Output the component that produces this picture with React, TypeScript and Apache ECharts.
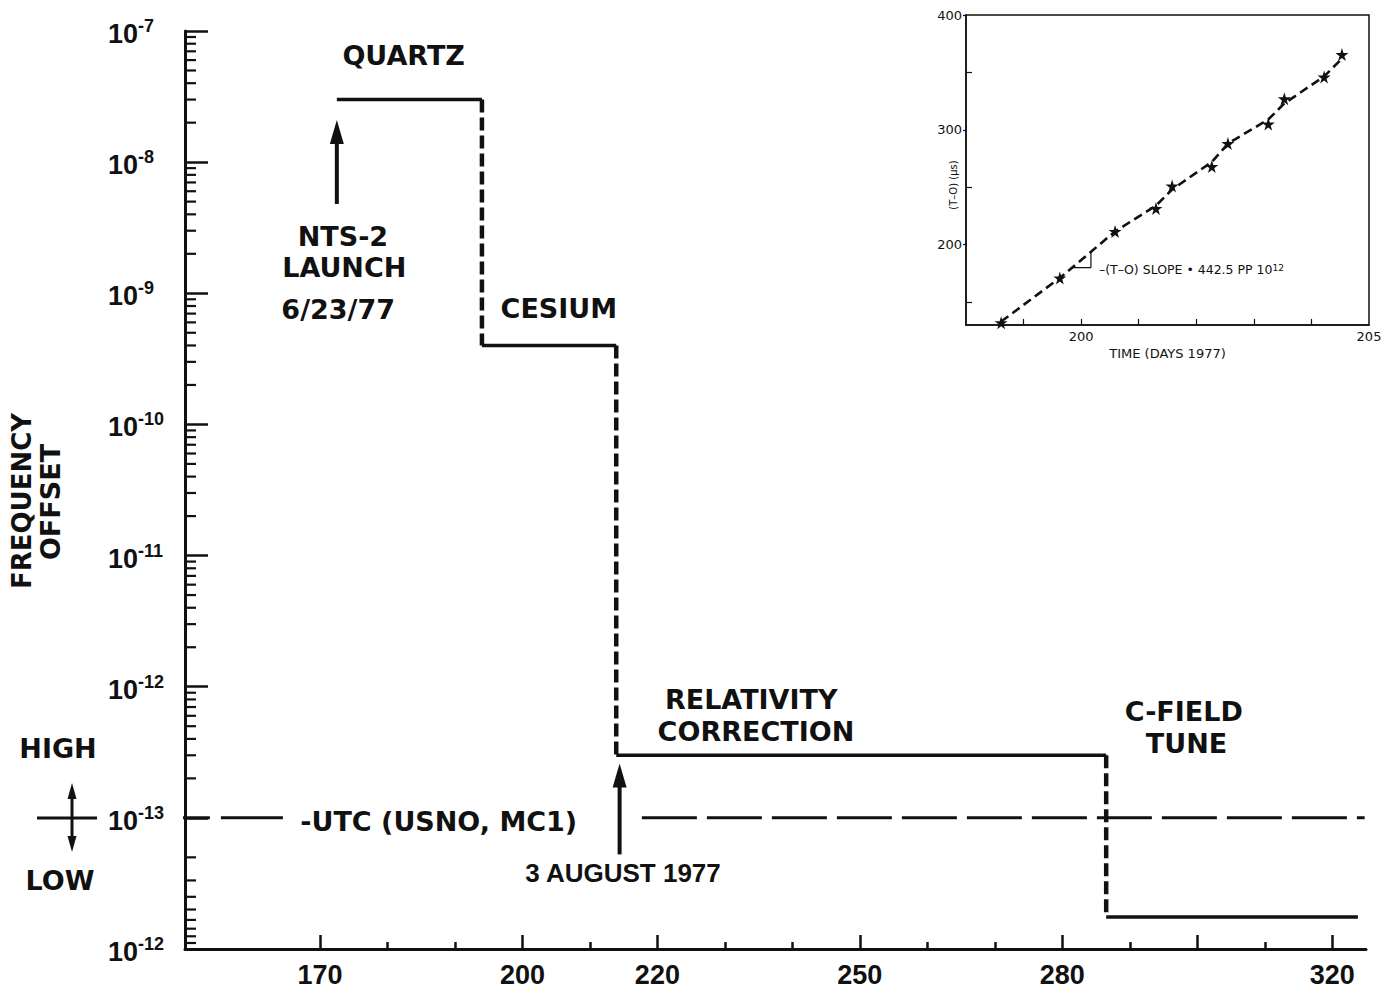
import React, { useEffect, useRef } from "react";
import * as echarts from "echarts";

// ---------- main chart: axes ----------
const X_MIN = 150;
const X_MAX = 325;
const X_LABELS = [170, 200, 220, 250, 280, 320];
const X_MAJOR_TICKS = [170, 200, 220, 250, 280, 300, 320];
const X_MINOR_TICKS = [180, 190, 210, 230, 240, 260, 270, 290, 310];

// y axis is a symmetric log scale in "decade" units: 10^-13 -> 0, 10^-7 -> 6, low 10^-12 -> -1
const Y_MIN = -1;
const Y_MAX = 6;
const Y_DECADE_POS = [-1, 0, 1, 2, 3, 4, 5, 6];
const Y_EXPONENTS = ["-12", "-13", "-12", "-11", "-10", "-9", "-8", "-7"];
const MINOR_MULTIPLIERS = [2, 3, 4, 5, 6, 7, 8, 9];

// ---------- main chart: clock phases (day of 1977, frequency offset) ----------
const PHASE_NAMES = ["QUARTZ", "CESIUM", "RELATIVITY CORRECTION", "C-FIELD TUNE"];
const PHASE_START = [172.5, 194, 213.9, 286.5];
const PHASE_END = [194, 213.9, 286.5, 323.8];
const PHASE_OFFSET = [3e-8, 4e-10, 3e-13, -5.7e-13];

// UTC (USNO, MC1) reference line segments (days)
const UTC_LEFT = [144.5, 164.7];
const UTC_RIGHT = [217.7, 324.8];

// event arrows: day, tail offset, tip offset
const ARROW_DAYS = [172.5, 214.4];
const ARROW_TAIL = [4.8e-9, -1.9e-13];
const ARROW_TIP = [2.1e-8, 2.6e-13];

// ---------- inset: (T-O) vs time ----------
const INSET_DAYS = [198.61, 199.63, 200.59, 201.3, 201.58, 202.27, 202.55, 203.25, 203.53, 204.22, 204.53];
const INSET_TO = [132, 171, 211.5, 231.5, 251, 268, 288, 305, 327, 346, 365.5];
const FIT_TO = [133, 171, 211.5, 234, 248, 272, 288, 309, 323, 346.5, 362];
const SLOPE_TRI_DAYS = [199.84, 200.17, 200.17];
const SLOPE_TRI_TO = [180, 180, 193.5];
const INSET_X_LABELS = [200, 205];
const INSET_X_TICKS = [199, 200, 201, 202, 203, 204];
const INSET_Y_LABELS = [200, 300, 400];
const INSET_Y_MINOR = [150, 250, 350];

const INK = "#111111";
const OLD = "DejaVu Sans";
const ARIAL = "Liberation Sans";
const STAR = "path://M50,0 L61,35 L98,35 L68,57 L79,91 L50,70 L21,91 L32,57 L2,35 L39,35 Z";

const pos = (v: number) => (v > 0 ? Math.log10(v) + 13 : -(Math.log10(-v) + 13));

// annotation text anchors (day, decade position)
const ANNOTATIONS: { text: string; day: number; at: number; font?: string; size?: number }[] = [
  { text: "QUARTZ", day: 182.4, at: 5.81 },
  { text: "NTS-2", day: 173.4, at: 4.435 },
  { text: "LAUNCH", day: 173.6, at: 4.2 },
  { text: "6/23/77", day: 172.7, at: 3.88 },
  { text: "CESIUM", day: 205.4, at: 3.885 },
  { text: "RELATIVITY", day: 233.9, at: 0.9 },
  { text: "CORRECTION", day: 234.6, at: 0.656 },
  { text: "C-FIELD", day: 298.0, at: 0.81 },
  { text: "TUNE", day: 298.4, at: 0.57 },
  { text: "-UTC (USNO, MC1)", day: 187.6, at: -0.03 },
  { text: "3 AUGUST 1977", day: 214.9, at: -0.42, font: ARIAL, size: 26 },
];

export default function App() {
  const ref = useRef<HTMLDivElement>(null);

  useEffect(() => {
    const el = ref.current!;
    const chart = echarts.init(el, undefined, { renderer: "svg" });

    const minorTicks: number[][] = [];
    for (let d = 0; d < Y_MAX; d++) MINOR_MULTIPLIERS.forEach((k) => minorTicks.push([X_MIN, d + Math.log10(k)]));
    MINOR_MULTIPLIERS.forEach((k) => minorTicks.push([X_MIN, -Math.log10(k)]));

    const series: any[] = [];

    series.push({
      type: "custom",
      xAxisIndex: 0,
      yAxisIndex: 0,
      silent: true,
      clip: false,
      data: minorTicks,
      renderItem: (_p: any, api: any) => {
        const p = api.coord([api.value(0), api.value(1)]);
        return {
          type: "line",
          shape: { x1: p[0], y1: p[1], x2: p[0] + 11, y2: p[1] },
          style: { stroke: INK, lineWidth: 2.2 },
        };
      },
    });

    // UTC reference line
    [UTC_LEFT, UTC_RIGHT].forEach((seg, i) => {
      series.push({
        type: "line",
        name: "UTC",
        xAxisIndex: 0,
        yAxisIndex: 0,
        clip: false,
        silent: true,
        symbol: "none",
        data: [
          [seg[0], 0],
          [seg[1], 0],
        ],
        lineStyle: { color: INK, width: 3, type: i === 0 ? [62, 11] : [55, 10] },
      });
    });

    // phases
    PHASE_START.forEach((s, i) => {
      const y = pos(PHASE_OFFSET[i]);
      series.push({
        type: "line",
        name: PHASE_NAMES[i],
        xAxisIndex: 0,
        yAxisIndex: 0,
        silent: true,
        symbol: "none",
        data: [
          [s, y],
          [PHASE_END[i], y],
        ],
        lineStyle: { color: INK, width: 3.5 },
      });
      if (i > 0) {
        const yPrev = pos(PHASE_OFFSET[i - 1]);
        series.push({
          type: "line",
          xAxisIndex: 0,
          yAxisIndex: 0,
          silent: true,
          symbol: "none",
          data: [
            [s, yPrev],
            [s, y],
          ],
          lineStyle: { color: INK, width: 4.5, type: [13, 5] },
        });
      }
    });

    // arrows
    ARROW_DAYS.forEach((d, i) => {
      series.push({
        type: "line",
        xAxisIndex: 0,
        yAxisIndex: 0,
        silent: true,
        symbol: "none",
        data: [
          [d, pos(ARROW_TAIL[i])],
          [d, pos(ARROW_TIP[i]) - 0.08],
        ],
        lineStyle: { color: INK, width: 4 },
      });
    });
    series.push({
      type: "scatter",
      xAxisIndex: 0,
      yAxisIndex: 0,
      silent: true,
      symbol: "triangle",
      symbolSize: [14, 24],
      symbolOffset: [0, "50%"],
      itemStyle: { color: INK, opacity: 1 },
      data: ARROW_DAYS.map((d, i) => [d, pos(ARROW_TIP[i])]),
    });

    // annotation texts
    series.push({
      type: "scatter",
      xAxisIndex: 0,
      yAxisIndex: 0,
      silent: true,
      symbolSize: 0,
      itemStyle: { opacity: 1 },
      data: ANNOTATIONS.map((a) => ({
        value: [a.day, a.at],
        name: a.text,
        label: {
          show: true,
          position: "inside",
          formatter: a.text,
          color: INK,
          opacity: 1,
          fontFamily: a.font || OLD,
          fontWeight: "bold",
          fontSize: a.size || 27,
        },
      })),
    });

    // inset series
    series.push({
      type: "line",
      name: "fit",
      xAxisIndex: 2,
      yAxisIndex: 1,
      silent: true,
      symbol: "none",
      z: 6,
      data: INSET_DAYS.map((d, i) => [d, FIT_TO[i]]),
      lineStyle: { color: INK, width: 2.6, type: [9, 5] },
    });
    series.push({
      type: "scatter",
      name: "T-O",
      xAxisIndex: 2,
      yAxisIndex: 1,
      silent: true,
      symbol: STAR,
      symbolSize: 13,
      z: 7,
      itemStyle: { color: INK, opacity: 1 },
      data: INSET_DAYS.map((d, i) => [d, INSET_TO[i]]),
    });
    series.push({
      type: "line",
      xAxisIndex: 2,
      yAxisIndex: 1,
      silent: true,
      symbol: "none",
      z: 6,
      data: SLOPE_TRI_DAYS.map((d, i) => [d, SLOPE_TRI_TO[i]]),
      lineStyle: { color: INK, width: 1.2 },
    });
    series.push({
      type: "scatter",
      xAxisIndex: 2,
      yAxisIndex: 1,
      silent: true,
      symbolSize: 0,
      z: 7,
      itemStyle: { opacity: 1 },
      data: [
        {
          value: [200.31, 178],
          label: {
            show: true,
            position: "right",
            distance: 0,
            formatter: "–(T–O) SLOPE • 442.5 PP 10{s|12}",
            color: INK,
            fontFamily: OLD,
            fontSize: 12.5,
            rich: { s: { fontSize: 9, verticalAlign: "top", lineHeight: 9, color: INK, fontFamily: OLD } },
          },
        },
      ],
    });

    const option: any = {
      animation: false,
      backgroundColor: "#ffffff",
      grid: [
        { left: 185, right: 21, top: 31, bottom: 44 },
        {
          left: 966,
          right: 18,
          top: 15,
          bottom: 668,
          show: true,
          borderColor: INK,
          borderWidth: 1.5,
          backgroundColor: "#ffffff",
          z: 5,
        },
      ],
      xAxis: [
        {
          type: "value",
          gridIndex: 0,
          position: "bottom",
          min: X_MIN,
          max: X_MAX,
          interval: 10,
          splitLine: { show: false },
          axisLine: { onZero: false, lineStyle: { color: INK, width: 3 } },
          axisTick: { inside: true, length: 14, customValues: X_MAJOR_TICKS, lineStyle: { color: INK, width: 2.5 } },
          axisLabel: {
            customValues: X_LABELS,
            margin: 12,
            color: INK,
            fontFamily: ARIAL,
            fontWeight: "bold",
            fontSize: 27,
          },
        },
        {
          type: "value",
          gridIndex: 0,
          position: "bottom",
          min: X_MIN,
          max: X_MAX,
          interval: 10,
          splitLine: { show: false },
          axisLine: { show: false, onZero: false },
          axisTick: { inside: true, length: 7, customValues: X_MINOR_TICKS, lineStyle: { color: INK, width: 2.5 } },
          axisLabel: { show: false },
        },
        {
          type: "value",
          gridIndex: 1,
          position: "bottom",
          min: 198,
          max: 205,
          interval: 1,
          splitLine: { show: false },
          axisLine: { onZero: false, lineStyle: { color: INK, width: 1.5 } },
          axisTick: { inside: true, length: 6, customValues: INSET_X_TICKS, lineStyle: { color: INK, width: 1.2 } },
          axisLabel: { customValues: INSET_X_LABELS, margin: 5, color: INK, fontFamily: OLD, fontSize: 13 },
          name: "TIME (DAYS 1977)",
          nameLocation: "middle",
          nameGap: 22,
          nameTextStyle: { color: INK, fontFamily: OLD, fontSize: 13 },
          z: 6,
        },
      ],
      yAxis: [
        {
          type: "value",
          gridIndex: 0,
          position: "left",
          min: Y_MIN,
          max: Y_MAX,
          interval: 1,
          splitLine: { show: false },
          axisLine: { onZero: false, lineStyle: { color: INK, width: 3 } },
          axisTick: { inside: true, length: 23, lineStyle: { color: INK, width: 2.5 } },
          axisLabel: {
            align: "left",
            margin: 77,
            formatter: (v: number) => {
              const i = Y_DECADE_POS.indexOf(v);
              return i < 0 ? "" : `{b|10}{s|${Y_EXPONENTS[i]}}`;
            },
            rich: {
              b: { fontFamily: ARIAL, fontWeight: "bold", fontSize: 27, color: INK, lineHeight: 28, padding: [6, 0, 0, 0] },
              s: { fontFamily: ARIAL, fontWeight: "bold", fontSize: 18, color: INK, lineHeight: 20, verticalAlign: "top" },
            },
          },
        },
        {
          type: "value",
          gridIndex: 1,
          position: "left",
          min: 130,
          max: 400,
          interval: 10,
          splitLine: { show: false },
          axisLine: { onZero: false, lineStyle: { color: INK, width: 1.5 } },
          axisTick: { length: 3, customValues: INSET_Y_LABELS, lineStyle: { color: INK, width: 1.2 } },
          axisLabel: { customValues: INSET_Y_LABELS, margin: 4, color: INK, fontFamily: OLD, fontSize: 13 },
          name: "(T–O) (μs)",
          nameLocation: "middle",
          nameGap: 8,
          nameRotate: 90,
          nameMoveOverlap: false,
          nameTextStyle: { color: INK, fontFamily: OLD, fontSize: 10, padding: [0, 30, 0, 0] },
          z: 6,
        },
        {
          type: "value",
          gridIndex: 1,
          position: "left",
          min: 130,
          max: 400,
          interval: 10,
          splitLine: { show: false },
          axisLine: { show: false, onZero: false },
          axisTick: { inside: true, length: 6, customValues: INSET_Y_MINOR, lineStyle: { color: INK, width: 1.2 } },
          axisLabel: { show: false },
          z: 6,
        },
      ],
      graphic: [
        {
          type: "text",
          x: 22,
          y: 501,
          rotation: Math.PI / 2,
          style: { text: "FREQUENCY", fill: INK, font: `bold 26px "${OLD}"`, align: "center", verticalAlign: "middle" },
        },
        {
          type: "text",
          x: 50,
          y: 502,
          rotation: Math.PI / 2,
          style: { text: "OFFSET", fill: INK, font: `bold 27px "${OLD}"`, align: "center", verticalAlign: "middle" },
        },
        {
          type: "text",
          x: 58,
          y: 748,
          style: { text: "HIGH", fill: INK, font: `bold 27px "${OLD}"`, align: "center", verticalAlign: "middle" },
        },
        {
          type: "text",
          x: 60,
          y: 880,
          style: { text: "LOW", fill: INK, font: `bold 27px "${OLD}"`, align: "center", verticalAlign: "middle" },
        },
        { type: "line", shape: { x1: 37, y1: 818, x2: 97, y2: 818 }, style: { stroke: INK, lineWidth: 3 } },
        { type: "line", shape: { x1: 72, y1: 796, x2: 72, y2: 840 }, style: { stroke: INK, lineWidth: 3 } },
        {
          type: "polygon",
          shape: { points: [[72, 783], [67.5, 799], [76.5, 799]] },
          style: { fill: INK },
        },
        {
          type: "polygon",
          shape: { points: [[72, 852], [67.5, 836], [76.5, 836]] },
          style: { fill: INK },
        },
      ],
      series,
    };

    chart.setOption(option);
    return () => chart.dispose();
  }, []);

  return (
    <div
      ref={ref}
      style={{ position: "fixed", left: 0, top: 0, width: 1387, height: 993, background: "#ffffff" }}
    />
  );
}
